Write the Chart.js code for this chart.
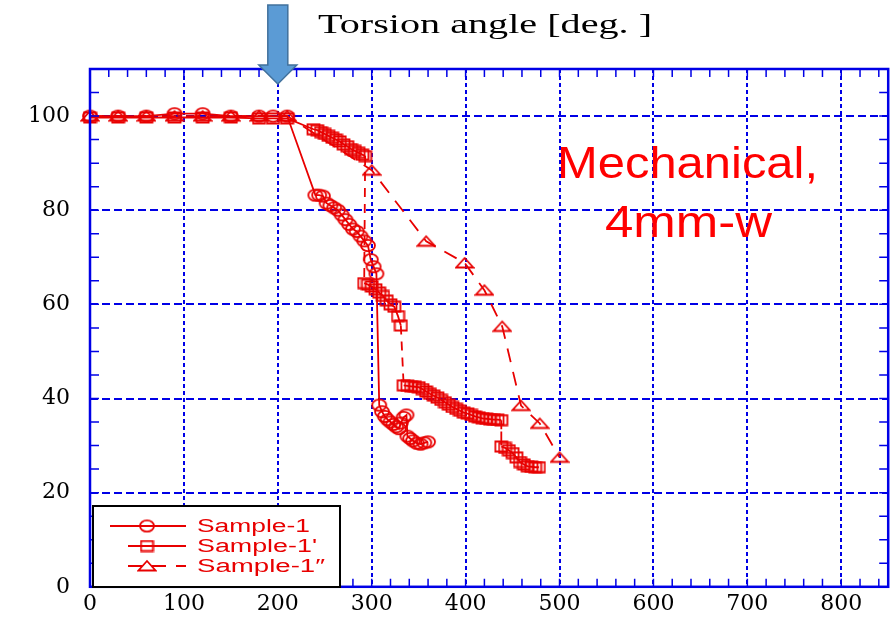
<!DOCTYPE html>
<html>
<head>
<meta charset="utf-8">
<title>Torsion angle</title>
<script src="https://cdn.jsdelivr.net/npm/chart.js@4.4.1/dist/chart.umd.min.js"></script>
<style>
  body { margin: 0; background: #fff; }
  canvas { display: block; }
</style>
</head>
<body>
<canvas id="myChart" width="896" height="620"></canvas>
<script>
// values: torsion angle [deg] -> value
const sample1X = [0, 30, 60, 90, 120, 150, 180, 195, 210,
  240, 244, 248, 252, 256, 260, 264, 268, 272, 276, 280, 284, 288, 292, 296, 299, 302, 305,
  308, 311, 314, 317, 320, 323, 326, 329, 331, 334, 337,
  338, 341, 344, 348, 352, 356, 360];
const sample1Y = [100, 100, 100, 100.5, 100.5, 100, 100, 100, 100,
  83.2, 83.2, 83, 81.5, 81, 80.5, 80, 79, 78, 77, 76, 75.5, 74.5, 73.5, 72.5, 69.5, 68, 66.5,
  38.6, 37.2, 36.2, 35.5, 35, 34.5, 34, 33.6, 34.8, 36, 36.5,
  32, 31.5, 31, 30.5, 30.3, 30.6, 30.8];

const sample2X = [0, 30, 60, 90, 120, 150, 180, 195, 210,
  238, 242, 246, 250, 254, 258, 262, 266, 270, 274, 278, 282, 286, 290, 293,
  292, 296, 300, 304, 308, 312, 316, 320, 324, 328, 331,
  334, 338, 342, 346, 350, 354, 358, 362, 366, 370, 374, 378, 382, 386, 390, 394, 398, 402, 406, 410, 414, 418, 422, 426, 430, 434, 438,
  438, 442, 446, 450, 454, 458, 462, 466, 470, 474, 478];
const sample2Y = [99.7, 99.7, 99.7, 99.7, 99.7, 99.7, 99.5, 99.5, 99.5,
  97.2, 97, 96.6, 96.2, 95.8, 95.4, 95, 94.6, 94, 93.6, 93, 92.6, 92.2, 91.8, 91.5,
  64.5, 64.2, 63.8, 63.2, 62.5, 61.8, 60.8, 60, 59.5, 57.5, 55.5,
  42.8, 42.7, 42.6, 42.5, 42.4, 42, 41.5, 41, 40.6, 40.2, 39.7, 39.2, 38.7, 38.2, 37.8, 37.4, 37, 36.8, 36.5, 36.2, 36, 35.8, 35.7, 35.6, 35.5, 35.5, 35.4,
  29.8, 29.5, 29, 28.4, 27.5, 26.5, 26, 25.6, 25.5, 25.4, 25.4];

const sample3X = [0, 30, 60, 90, 120, 150, 180, 210, 300, 358, 399, 420, 439, 459, 479, 500];
const sample3Y = [100, 100, 100, 100, 100, 100, 100, 100, 88.5, 73.4, 68.8, 63, 55.3, 38.5, 34.7, 27.5];

const seriesLabels = ['Sample-1', "Sample-1'", 'Sample-1\u2033'];
const xTickLabels = [0, 100, 200, 300, 400, 500, 600, 700, 800];
const yTickLabels = [0, 20, 40, 60, 80, 100];

const red = 'rgb(232, 0, 0)';
const blue = 'rgb(0, 0, 230)';

// open markers, a bit wider than tall like in the original
function marker(w, h, draw) {
  const c = document.createElement('canvas');
  c.width = w;
  c.height = h;
  const g = c.getContext('2d');
  g.strokeStyle = red;
  g.lineWidth = 1.8;
  g.beginPath();
  draw(g);
  g.stroke();
  return c;
}
const circleMark = marker(18, 15, g => g.ellipse(9, 7.5, 7, 5.6, 0, 0, Math.PI * 2));
const squareMark = marker(15, 13, g => g.rect(1.5, 1.5, 12, 10));
const triangleMark = marker(20, 14, g => {
  g.moveTo(10, 2); g.lineTo(18.5, 11.5); g.lineTo(1.5, 11.5); g.closePath();
});

function points(xs, ys) {
  return xs.map((x, i) => ({ x: x, y: ys[i] }));
}

// draw text squeezed/stretched to a given width
function fitText(ctx, text, left, baseline, font, width, color) {
  ctx.save();
  ctx.font = font;
  ctx.fillStyle = color;
  ctx.textAlign = 'left';
  ctx.textBaseline = 'alphabetic';
  const sx = width / ctx.measureText(text).width;
  ctx.translate(left, baseline);
  ctx.scale(sx, 1);
  ctx.fillText(text, 0, 0);
  ctx.restore();
}

const decorations = {
  id: 'decorations',
  afterDatasetsDraw(chart) {
    const { ctx, chartArea: a, scales: { x, y } } = chart;
    ctx.save();
    ctx.strokeStyle = blue;
    ctx.lineWidth = 1.5;
    ctx.beginPath();
    for (let v = 20; v < 850; v += 20) {
      const px = x.getPixelForValue(v);
      ctx.moveTo(px, a.bottom); ctx.lineTo(px, a.bottom - 8);
      ctx.moveTo(px, a.top); ctx.lineTo(px, a.top + 8);
    }
    for (let v = 5; v < 110; v += 5) {
      const py = y.getPixelForValue(v);
      ctx.moveTo(a.left, py); ctx.lineTo(a.left + 9, py);
      ctx.moveTo(a.right, py); ctx.lineTo(a.right - 9, py);
    }
    ctx.stroke();
    ctx.lineWidth = 2.5;
    ctx.strokeRect(a.left, a.top, a.right - a.left, a.bottom - a.top);
    ctx.restore();
  },
  afterDraw(chart) {
    const { ctx, scales: { x } } = chart;

    // blue arrow pointing at 200 deg
    const ax = x.getPixelForValue(200);
    ctx.save();
    ctx.beginPath();
    ctx.moveTo(ax - 10, 5);
    ctx.lineTo(ax + 10, 5);
    ctx.lineTo(ax + 10, 65);
    ctx.lineTo(ax + 19, 65);
    ctx.lineTo(ax, 84);
    ctx.lineTo(ax - 19, 65);
    ctx.lineTo(ax - 10, 65);
    ctx.closePath();
    ctx.fillStyle = '#5b9bd5';
    ctx.fill();
    ctx.strokeStyle = '#41719c';
    ctx.lineWidth = 1.5;
    ctx.stroke();
    ctx.restore();

    fitText(ctx, 'Torsion angle [deg. ]', 318, 33, '28px "Liberation Serif"', 334, '#000');
    fitText(ctx, 'Mechanical,', 557, 178, '44px "Liberation Sans"', 261, '#ff0000');
    fitText(ctx, '4mm-w', 605, 237, '44px "Liberation Sans"', 167, '#ff0000');

    // legend box
    ctx.save();
    ctx.fillStyle = '#fff';
    ctx.fillRect(93, 506, 247, 81);
    ctx.strokeStyle = '#000';
    ctx.lineWidth = 2;
    ctx.strokeRect(93, 506, 247, 81);
    const rows = [526, 546, 566];
    const widths = [113, 120, 128];
    const marks = [circleMark, squareMark, triangleMark];
    chart.data.datasets.forEach((ds, i) => {
      const ry = rows[i];
      ctx.strokeStyle = red;
      ctx.lineWidth = 1.8;
      ctx.setLineDash(ds.borderDash || []);
      ctx.beginPath();
      ctx.moveTo(i === 0 ? 110 : 128, ry);
      ctx.lineTo(186, ry);
      ctx.stroke();
      ctx.setLineDash([]);
      ctx.drawImage(marks[i], 147 - marks[i].width / 2, ry - marks[i].height / 2);
      fitText(ctx, ds.label, 197, ry + 6, '18px "Liberation Sans"', widths[i], red);
    });
    ctx.restore();
  }
};

const ctx = document.getElementById('myChart');

new Chart(ctx, {
  type: 'scatter',
  data: {
    datasets: [{
      label: seriesLabels[0],
      data: points(sample1X, sample1Y),
      showLine: true,
      borderColor: red,
      borderWidth: 1.8,
      pointStyle: circleMark,
      pointRadius: 6,
      clip: false
    },
    {
      label: seriesLabels[1],
      data: points(sample2X, sample2Y),
      showLine: true,
      borderColor: red,
      borderWidth: 1.8,
      pointStyle: squareMark,
      pointRadius: 6,
      clip: false,
      segment: {
        borderDash: c => (c.p0.parsed.y - c.p1.parsed.y > 5 ? [9, 7] : undefined)
      }
    },
    {
      label: seriesLabels[2],
      data: points(sample3X, sample3Y),
      showLine: true,
      borderColor: red,
      borderWidth: 1.8,
      borderDash: [14, 10],
      pointStyle: triangleMark,
      pointRadius: 6,
      clip: false
    }]
  },
  options: {
    responsive: false,
    animation: false,
    devicePixelRatio: 1,
    layout: { padding: { top: 69, right: 3, left: 0, bottom: 0 } },
    plugins: {
      legend: { display: false },
      tooltip: { enabled: false }
    },
    scales: {
      x: {
        type: 'linear',
        min: 0,
        max: 850,
        afterFit: s => { s.height = 33; },
        afterBuildTicks: s => { s.ticks = xTickLabels.map(v => ({ value: v })); },
        grid: { color: blue, lineWidth: 2, drawTicks: false },
        border: { display: false, dash: [4, 3] },
        ticks: {
          color: '#000',
          font: { family: '"DejaVu Serif"', size: 22 },
          padding: 4,
          autoSkip: false,
          maxRotation: 0
        }
      },
      y: {
        min: 0,
        max: 110,
        afterFit: s => { s.width = 90; },
        afterBuildTicks: s => { s.ticks = yTickLabels.map(v => ({ value: v })); },
        grid: { color: blue, lineWidth: 2, drawTicks: false },
        border: { display: false, dash: [8, 4] },
        ticks: {
          color: '#000',
          font: { family: '"DejaVu Serif"', size: 22 },
          padding: 20
        }
      }
    }
  },
  plugins: [decorations]
});
console.log('done');
</script>
</body>
</html>
